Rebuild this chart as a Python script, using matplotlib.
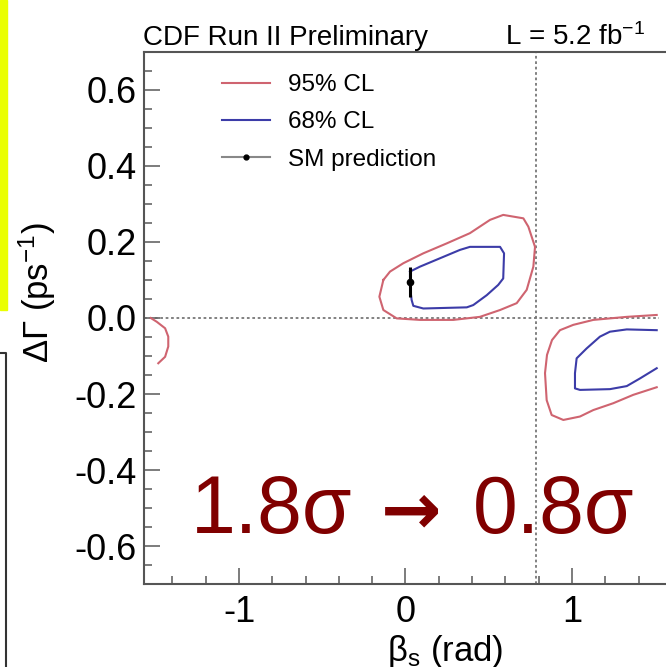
import numpy as np
import matplotlib
matplotlib.use("Agg")
import matplotlib.pyplot as plt
from matplotlib.lines import Line2D
from matplotlib.patches import Rectangle
from matplotlib.ticker import MultipleLocator, FormatStrFormatter

plt.rcParams['font.family'] = ['Liberation Sans', 'DejaVu Sans']
plt.rcParams['axes.unicode_minus'] = False
plt.rcParams['mathtext.fontset'] = 'custom'
plt.rcParams['mathtext.rm'] = 'Liberation Sans'
plt.rcParams['mathtext.it'] = 'Liberation Sans:italic'

# --- contour data (beta_s [rad], DeltaGamma [ps^-1]) ---
# 95% CL, main island around the SM point
cl95_main_x = [-0.133, -0.093, -0.013, 0.107, 0.247, 0.387, 0.508, 0.587, 0.708, 0.738,
               0.778, 0.768, 0.728, 0.668, 0.568, 0.447, 0.287, 0.087, -0.053, -0.133,
               -0.157, -0.133]
cl95_main_y = [0.100, 0.122, 0.144, 0.170, 0.196, 0.223, 0.258, 0.271, 0.262, 0.240,
               0.187, 0.135, 0.074, 0.039, 0.021, 0.003, -0.005, -0.005, -0.001, 0.021,
               0.056, 0.100]
# 95% CL, second solution (open towards beta_s = pi/2)
cl95_right_x = [1.509, 1.329, 1.128, 1.008, 0.928, 0.880, 0.850, 0.838, 0.848, 0.878,
                0.948, 1.048, 1.128, 1.248, 1.368, 1.509]
cl95_right_y = [0.008, 0.003, -0.005, -0.018, -0.032, -0.058, -0.097, -0.145, -0.216, -0.255,
                -0.268, -0.259, -0.242, -0.224, -0.202, -0.182]
# 95% CL, wrap-around piece at beta_s = -pi/2
cl95_left_x = [-1.53, -1.494, -1.444, -1.425, -1.425, -1.444, -1.485]
cl95_left_y = [0.0, -0.010, -0.027, -0.049, -0.075, -0.102, -0.119]

# 68% CL
cl68_main_x = [0.027, 0.087, 0.207, 0.327, 0.387, 0.568, 0.592, 0.587, 0.557, 0.488,
               0.407, 0.368, 0.107, 0.047, 0.037, 0.027, 0.027]
cl68_main_y = [0.122, 0.135, 0.157, 0.179, 0.187, 0.187, 0.170, 0.104, 0.087, 0.060,
               0.034, 0.028, 0.025, 0.032, 0.047, 0.082, 0.122]
cl68_right_x = [1.509, 1.329, 1.228, 1.168, 1.088, 1.028, 1.018, 1.018, 1.048, 1.228,
                1.329, 1.408, 1.509]
cl68_right_y = [-0.032, -0.030, -0.036, -0.049, -0.080, -0.106, -0.145, -0.185, -0.189, -0.187,
                -0.179, -0.159, -0.132]

# SM prediction
sm_beta = 0.025
sm_dg = 0.095
sm_dg_err = 0.04

RED = '#cf6470'
BLUE = '#3c3ca8'
GRID = '#777777'
NOTE = '#800000'

fig = plt.figure(figsize=(6.66, 6.67), dpi=100)
ax = fig.add_axes([144 / 666, 1 - 584.3 / 667, 523 / 666, 532.6 / 667])

ax.set_xlim(-np.pi / 2, np.pi / 2)
ax.set_ylim(-0.7, 0.7)

# reference lines
ax.axhline(0.0, xmax=0.985, color=GRID, lw=1.3, ls=(0, (1.5, 1.5)), zorder=1)
ax.axvline(np.pi / 4, color=GRID, lw=1.3, ls=(0, (1.5, 1.5)), zorder=1)

for xs, ys in [(cl95_main_x, cl95_main_y), (cl95_right_x, cl95_right_y),
               (cl95_left_x, cl95_left_y)]:
    ax.plot(xs, ys, color=RED, lw=1.5, zorder=2)
for xs, ys in [(cl68_main_x, cl68_main_y), (cl68_right_x, cl68_right_y)]:
    ax.plot(xs, ys, color=BLUE, lw=1.5, zorder=2)

ax.errorbar(sm_beta, sm_dg, yerr=sm_dg_err, fmt='o', color='k', ms=4.5, lw=2.2,
            capsize=0, zorder=3)

# axes style
for side in ['left', 'bottom', 'top']:
    ax.spines[side].set_color('#555555')
    ax.spines[side].set_linewidth(1.5)
ax.spines['right'].set_visible(False)

ax.xaxis.set_major_locator(MultipleLocator(1))
ax.xaxis.set_minor_locator(MultipleLocator(0.2))
ax.yaxis.set_major_locator(MultipleLocator(0.2))
ax.yaxis.set_minor_locator(MultipleLocator(0.05))
ax.xaxis.set_major_formatter(FormatStrFormatter('%d'))
ax.yaxis.set_major_formatter(FormatStrFormatter('%.1f'))
ax.tick_params(which='both', direction='in', color='#666666', width=1.2,
               labelsize=26, top=False, right=False)
ax.tick_params(which='major', length=11.5)
ax.tick_params(which='minor', length=5.8)
ax.tick_params(axis='y', pad=5)
ax.tick_params(axis='x', pad=8)

ax.set_ylabel('ΔΓ (ps$^{-1}$)', fontsize=25)
ax.yaxis.set_label_coords(-0.165, 0.547)
ax.set_xlabel(r'β$_{\mathrm{s}}$ (rad)', fontsize=25)
ax.xaxis.set_label_coords(0.5755, -0.091)

ax.text(-0.002, 1.0126, 'CDF Run II Preliminary', transform=ax.transAxes,
        fontsize=20, va='baseline', ha='left')
ax.text(0.6895, 1.0126, r'L = 5.2 fb$^{-1}$', transform=ax.transAxes,
        fontsize=20, va='baseline', ha='left')

handles = [Line2D([], [], color=RED, lw=1.5),
           Line2D([], [], color=BLUE, lw=1.5),
           Line2D([], [], color='#888888', lw=1.5, marker='o', ms=3.5,
                  mfc='k', mec='k')]
ax.legend(handles, ['95% CL', '68% CL', 'SM prediction'], loc='upper left',
          bbox_to_anchor=(0.149, 0.958), frameon=False, fontsize=17.5,
          handlelength=1.98, handletextpad=0.74, labelspacing=0.63,
          borderpad=0, borderaxespad=0, numpoints=1)

# significance note: before -> after
ax.text(0.0899, 0.0963, '1.8σ', transform=ax.transAxes,
        fontsize=58, color=NOTE, va='baseline', ha='left', zorder=4)
ax.text(0.452, 0.0963, '→', transform=ax.transAxes, family='DejaVu Sans',
        fontweight='bold', fontsize=52, color=NOTE, va='baseline', ha='left', zorder=4)
ax.text(0.629, 0.0963, '0.8σ', transform=ax.transAxes,
        fontsize=58, color=NOTE, va='baseline', ha='left', zorder=4)

# slide decorations at the left edge
fig.patches.append(Rectangle((0, 1 - 310 / 667), 7 / 666, 310 / 667,
                             transform=fig.transFigure, color='#eaff00'))
fig.add_artist(Line2D([0, 6 / 666, 6 / 666], [1 - 353 / 667, 1 - 353 / 667, 0],
                      transform=fig.transFigure, color='#333333', lw=1.5))

fig.savefig('out.png', dpi=100)
